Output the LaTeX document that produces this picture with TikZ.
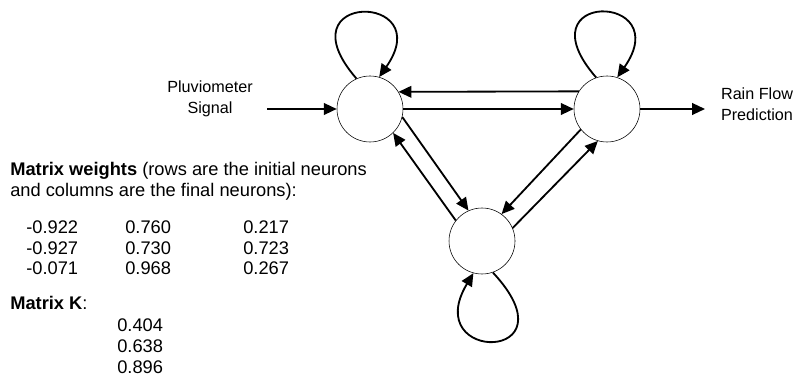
\documentclass[tikz,border=0pt]{standalone}
\usepackage{fontspec}
\setmainfont{Liberation Sans}
\usetikzlibrary{arrows.meta, positioning}
\tikzset{
  neuron/.style={circle,draw=black,line width=0.4pt,minimum size=16.5mm,inner sep=0pt},
  lbltext/.style={align=center,font=\fontsize{11.5}{15}\selectfont},
  mattext/.style={anchor=west,align=left,inner sep=0pt,font=\fontsize{13}{14.6}\selectfont},
  synedge/.style={-{Triangle[length=3.2mm,width=2.9mm]},line width=1.3pt,black},
}

\begin{document}
\begin{tikzpicture}
  \useasboundingbox (0,0) rectangle (19.9,9.475);
  \node[neuron] (nN1) at (9.25,6.75) {};
  \node[neuron] (nN2) at (15.175,6.75) {};
  \node[neuron] (nN3) at (12.05,3.45) {};
  \coordinate (cIn) at (6.675,6.75);
  \coordinate (cOut) at (17.625,6.75);
  \node[lbltext] (nSignal) at (5.25,7.0) {Pluviometer\\Signal};
  \node[lbltext] (nPrediction) at (18.925,6.88) {Rain Flow\\Prediction};
  \draw[synedge] (cIn) -- (nN1);
  \draw[synedge] (nN2) -- (cOut);
  \draw[synedge] (nN1) -- (nN2);
  \draw[synedge] (nN2.148) -- (nN1.31);
  \draw[synedge] (nN1.-14) -- (nN3.114);
  \draw[synedge] (nN3.142) -- (nN1.-46);
  \draw[synedge] (nN2.-142) -- (nN3.54);
  \draw[synedge] (nN3.23) -- (nN2.-106);
  % self loops
  \draw[synedge] (nN1.114) .. controls +(131:2.9) and +(55:2.6) .. (nN1.74);
  \draw[synedge] (nN2.109) .. controls +(131:2.9) and +(55:2.6) .. (nN2.72);
  \draw[synedge] (nN3.-71) .. controls +(-47:3.1) and +(-121:2.64) .. (nN3.-105);
  % matrices
  \node[mattext] (nWcap) at (0.25,4.94) {\textbf{Matrix weights} (rows are the initial neurons\\and columns are the final neurons):};
  \node[mattext] (nW11) at (0.65,3.8) {-0.922};
  \node[mattext] (nW12) at (3.125,3.8) {0.760};
  \node[mattext] (nW13) at (6.075,3.8) {0.217};
  \node[mattext] (nW21) at (0.65,3.275) {-0.927};
  \node[mattext] (nW22) at (3.125,3.275) {0.730};
  \node[mattext] (nW23) at (6.075,3.275) {0.723};
  \node[mattext] (nW31) at (0.65,2.775) {-0.071};
  \node[mattext] (nW32) at (3.125,2.775) {0.968};
  \node[mattext] (nW33) at (6.075,2.775) {0.267};
  \node[mattext] (nKcap) at (0.25,1.9) {\textbf{Matrix K}:};
  \node[mattext] (nK1) at (2.925,1.35) {0.404};
  \node[mattext] (nK2) at (2.925,0.825) {0.638};
  \node[mattext] (nK3) at (2.925,0.3) {0.896};
\end{tikzpicture}
\end{document}
